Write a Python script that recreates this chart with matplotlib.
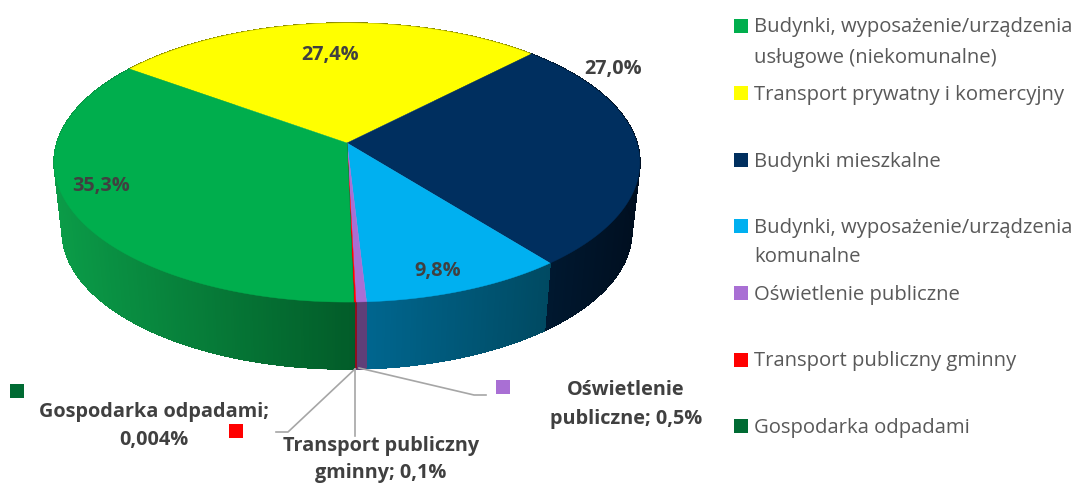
import numpy as np
import matplotlib
matplotlib.use("Agg")
import matplotlib.pyplot as plt
from matplotlib.patches import Polygon, Rectangle

plt.rcParams['font.family'] = ['Open Sans', 'DejaVu Sans']

# slices clockwise, beginning at the yellow one
slice_names = ["Transport prywatny i komercyjny", "Budynki mieszkalne",
               "Budynki, wyposażenie/urządzenia komunalne", "Oświetlenie publiczne",
               "Transport publiczny gminny", "Gospodarka odpadami",
               "Budynki, wyposażenie/urządzenia usługowe (niekomunalne)"]
slice_values = [27.4, 27.0, 9.8, 0.5, 0.1, 0.004, 35.3]
slice_colors = ["#ffff00", "#002f5f", "#00b0f0", "#a96fd4", "#ff0000", "#006b33", "#00ae4d"]

# side colours, left end of the wedge then right end (by screen position)
side_left = ["#8a8a00", "#001a33", "#00668f", "#603f78", "#8f1020", "#005a2a", "#0b9c48"]
side_right = ["#8a8a00", "#000f20", "#004a62", "#603f78", "#8f1020", "#005a2a", "#025c29"]

legend_lines = [("Budynki, wyposażenie/urządzenia", "usługowe (niekomunalne)"),
                ("Transport prywatny i komercyjny",),
                ("Budynki mieszkalne",),
                ("Budynki, wyposażenie/urządzenia", "komunalne"),
                ("Oświetlenie publiczne",),
                ("Transport publiczny gminny",),
                ("Gospodarka odpadami",)]
legend_colors = ["#00ae4d", "#ffff00", "#002f5f", "#00b0f0", "#a96fd4", "#ff0000", "#006b33"]
legend_boxes = [19, 86, 153, 219, 286, 353, 419]
legend_base = [(32, 63), (100,), (167,), (233, 262), (300,), (366,), (433,)]

START = -54.2   # angle of the first slice edge, degrees from the top

fig = plt.figure(figsize=(10.85, 4.84), dpi=100)
ax = fig.add_axes([0, 0, 1, 1])
ax.set_xlim(0, 1085)
ax.set_ylim(484, 0)
ax.axis("off")


def project(deg, cy, a, b):
    # perspective of the tilted disc, far side is a bit smaller
    t = np.radians(deg)
    w = 1 + 0.14 * np.cos(t)
    return 347 + a * np.sin(t) / w, cy - b * np.cos(t) / w


def top_edge(deg):
    return project(deg, 143, 290, 136.8)


def low_edge(deg):
    return project(deg, 212, 282, 135)


total = sum(slice_values)
edges = START + np.concatenate([[0], np.cumsum(slice_values)]) * 360 / total

# sides first, back to front
quads = []
for i in range(len(slice_values)):
    n = max(2, int((edges[i + 1] - edges[i]) * 2))
    ang = np.linspace(edges[i], edges[i + 1], n + 1)
    xs = top_edge(ang)[0]
    c0 = np.array(matplotlib.colors.to_rgb(side_left[i]))
    c1 = np.array(matplotlib.colors.to_rgb(side_right[i]))
    for a0, a1 in zip(ang[:-1], ang[1:]):
        xm = top_edge((a0 + a1) / 2)[0]
        f = (xm - xs.min()) / (xs.max() - xs.min()) if xs.max() > xs.min() else 0
        quads.append((np.cos(np.radians((a0 + a1) / 2)), a0, a1, c0 + (c1 - c0) * f))

quads.sort(key=lambda q: -q[0])
for _, a0, a1, col in quads:
    pts = [top_edge(a0), top_edge(a1), low_edge(a1), low_edge(a0)]
    ax.add_patch(Polygon(pts, closed=True, facecolor=col, edgecolor=col, lw=0.5,
                         antialiased=False, zorder=1))
    # smooth out the lower rim
    lx, ly = low_edge(np.array([a0, a1]))
    if np.cos(np.radians(a0)) < 0.2:
        ax.plot(lx, ly, color=col, lw=0.8, solid_capstyle="round", zorder=1.5)

# top of the pie
for i in range(len(slice_values)):
    n = max(2, int((edges[i + 1] - edges[i]) * 2))
    ang = np.linspace(edges[i], edges[i + 1], n + 1)
    xs, ys = top_edge(ang)
    pts = [(347, 143)] + list(zip(xs, ys))
    ax.add_patch(Polygon(pts, closed=True, facecolor=slice_colors[i],
                         edgecolor=slice_colors[i], lw=0.3, zorder=2))

# labels on the slices
for txt, x, y in [("27,4%", 330, 55), ("27,0%", 613, 69), ("35,3%", 101, 186), ("9,8%", 438, 271)]:
    ax.text(x, y, txt, ha="center", va="center", fontsize=14.3, fontweight="bold", color="#404040")

# leader lines
leader = "#a6a6a6"
ax.plot([355, 288, 276], [369, 432, 432], color=leader, lw=1.2)
ax.plot([355, 355], [369, 436], color=leader, lw=1.2)
ax.plot([359, 474, 486], [368, 395, 395], color=leader, lw=1.2)

# outer labels with their little keys
for txt, x, y in [("Gospodarka odpadami;", 154, 417), ("0,004%", 154, 445),
                  ("Transport publiczny", 381, 451), ("gminny; 0,1%", 381, 478),
                  ("Oświetlenie", 626, 395), ("publiczne; 0,5%", 626, 424)]:
    ax.text(x, y, txt, ha="center", va="baseline", fontsize=14.3, fontweight="bold", color="#404040")

for col, x, y in [("#006b33", 10, 384), ("#ff0000", 229, 424), ("#a96fd4", 496, 380)]:
    ax.add_patch(Rectangle((x, y), 14, 14, facecolor=col, edgecolor="none"))

# legend on the right
for lines, col, box, bases in zip(legend_lines, legend_colors, legend_boxes, legend_base):
    ax.add_patch(Rectangle((734, box), 14, 14, facecolor=col, edgecolor="none"))
    for line, base in zip(lines, bases):
        ax.text(754, base, line, ha="left", va="baseline", fontsize=14.6, color="#595959")

fig.savefig("out.png", dpi=100)
